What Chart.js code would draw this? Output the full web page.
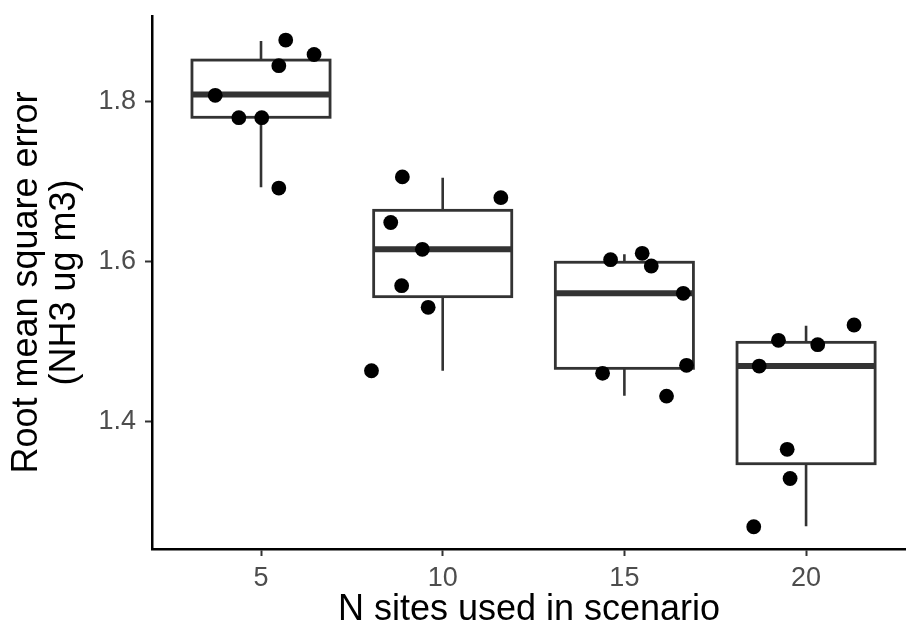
<!DOCTYPE html>
<html>
<head>
<meta charset="utf-8">
<script src="https://cdn.jsdelivr.net/npm/chart.js@4.4.1/dist/chart.umd.min.js"></script>
<style>
  html, body { margin: 0; padding: 0; background: #fff; }
  #wrap { width: 906px; height: 632px; }
</style>
</head>
<body>
<div id="wrap"><canvas id="rmseBox" width="906" height="632"></canvas></div>
<script>
// N sites per scenario (x categories)
const categories = [5, 10, 15, 20];
const yTicks = [1.4, 1.6, 1.8];

// box statistics
const whiskerLow = [1.693, 1.4637, 1.4325, 1.2692];
const boxQ1 = [1.7805, 1.5563, 1.4667, 1.3475];
const boxMedian = [1.809, 1.6155, 1.5605, 1.4696];
const boxQ3 = [1.852, 1.6642, 1.5993, 1.4992];
const whiskerHigh = [1.876, 1.705, 1.6093, 1.52];

// jittered points (x is the jittered position, y the RMSE)
const pointsX5 = [5.68, 6.46, 5.49, 3.74, 4.39, 5.02, 5.49];
const pointsY5 = [1.877, 1.859, 1.845, 1.808, 1.78, 1.78, 1.692];
const pointsX10 = [8.89, 11.6, 8.57, 9.44, 8.87, 9.6, 8.04];
const pointsY10 = [1.706, 1.68, 1.649, 1.6155, 1.57, 1.543, 1.4637];
const pointsX15 = [14.62, 15.49, 15.74, 16.62, 16.71, 14.4, 16.16];
const pointsY15 = [1.6025, 1.6105, 1.5946, 1.5605, 1.4705, 1.4605, 1.432];
const pointsX20 = [21.32, 19.24, 20.32, 18.71, 19.48, 19.56, 18.56];
const pointsY20 = [1.5209, 1.5017, 1.4963, 1.4696, 1.3655, 1.329, 1.2687];

const boxHalfWidth = 1.9;
const fontFamily = "'Liberation Sans', Arial, Helvetica, sans-serif";

const allPoints = [];
[[pointsX5, pointsY5], [pointsX10, pointsY10], [pointsX15, pointsY15], [pointsX20, pointsY20]]
  .forEach(([xs, ys]) => {
    xs.forEach((x, i) => allPoints.push({ x: x, y: ys[i] }));
  });

const boxplotPlugin = {
  id: "boxplot",
  beforeDatasetsDraw(chart) {
    const ctx = chart.ctx;
    const xs = chart.scales.x;
    const ys = chart.scales.y;
    ctx.save();
    ctx.strokeStyle = "#333333";
    categories.forEach((cat, i) => {
      const cx = xs.getPixelForValue(cat);
      const left = xs.getPixelForValue(cat - boxHalfWidth);
      const right = xs.getPixelForValue(cat + boxHalfWidth);
      const yLo = ys.getPixelForValue(whiskerLow[i]);
      const yQ1 = ys.getPixelForValue(boxQ1[i]);
      const yMed = ys.getPixelForValue(boxMedian[i]);
      const yQ3 = ys.getPixelForValue(boxQ3[i]);
      const yHi = ys.getPixelForValue(whiskerHigh[i]);

      // whiskers
      ctx.lineWidth = 2.6;
      ctx.beginPath();
      ctx.moveTo(cx, yQ3);
      ctx.lineTo(cx, yHi);
      ctx.moveTo(cx, yQ1);
      ctx.lineTo(cx, yLo);
      ctx.stroke();

      // box
      ctx.fillStyle = "#ffffff";
      ctx.fillRect(left, yQ3, right - left, yQ1 - yQ3);
      ctx.lineWidth = 2.8;
      ctx.strokeRect(left, yQ3, right - left, yQ1 - yQ3);

      // median
      ctx.lineWidth = 6;
      ctx.beginPath();
      ctx.moveTo(left, yMed);
      ctx.lineTo(right, yMed);
      ctx.stroke();
    });
    ctx.restore();
  },
};

// no extra room for tick labels at the scale ends
const noEdgePadding = (scale) => {
  scale.paddingTop = 0;
  scale.paddingBottom = 0;
  scale.paddingLeft = 0;
  scale.paddingRight = 0;
};

const ctx = document.getElementById("rmseBox").getContext("2d");
const rmseChart = new Chart(ctx, {
  type: "scatter",
  data: {
    datasets: [
      {
        data: allPoints,
        backgroundColor: "#000000",
        borderColor: "#000000",
        borderWidth: 0,
        pointRadius: 7.4,
      },
    ],
  },
  options: {
    responsive: false,
    animation: false,
    devicePixelRatio: 1,
    layout: {
      autoPadding: false,
      padding: { top: 16, right: 0, bottom: 0, left: 0 },
    },
    scales: {
      x: {
        type: "linear",
        min: 2,
        max: 22.75,
        afterBuildTicks: (scale) => {
          scale.ticks = categories.map((v) => ({ value: v }));
        },
        afterFit: (scale) => {
          scale.height = 83;
          noEdgePadding(scale);
        },
        border: { display: true, color: "#000000", width: 2.5 },
        grid: {
          display: true,
          drawOnChartArea: false,
          drawTicks: true,
          tickLength: 7,
          tickWidth: 2,
          tickColor: "#333333",
        },
        ticks: {
          color: "#4d4d4d",
          padding: 6,
          autoSkip: false,
          maxRotation: 0,
          font: { family: fontFamily, size: 27 },
          callback: (v) => String(v),
        },
        title: {
          display: true,
          text: "N sites used in scenario",
          color: "#000000",
          padding: { top: 0, bottom: 3 },
          font: { family: fontFamily, size: 36, lineHeight: 1.05 },
        },
      },
      y: {
        type: "linear",
        min: 1.2409,
        max: 1.9071,
        afterBuildTicks: (scale) => {
          scale.ticks = yTicks.map((v) => ({ value: v }));
        },
        afterFit: (scale) => {
          scale.width = 152;
          noEdgePadding(scale);
        },
        border: { display: true, color: "#000000", width: 2.5 },
        grid: {
          display: true,
          drawOnChartArea: false,
          drawTicks: true,
          tickLength: 7,
          tickWidth: 2,
          tickColor: "#333333",
        },
        ticks: {
          color: "#4d4d4d",
          padding: 9,
          autoSkip: false,
          font: { family: fontFamily, size: 27 },
          callback: (v) => v.toFixed(1),
        },
        title: {
          display: true,
          text: ["Root mean square error", "(NH3 ug m3)"],
          color: "#000000",
          padding: { top: 8, bottom: 0 },
          font: { family: fontFamily, size: 36, lineHeight: 1.05 },
        },
      },
    },
    plugins: {
      legend: { display: false },
      tooltip: { enabled: false },
    },
  },
  plugins: [boxplotPlugin],
});
</script>
</body>
</html>
